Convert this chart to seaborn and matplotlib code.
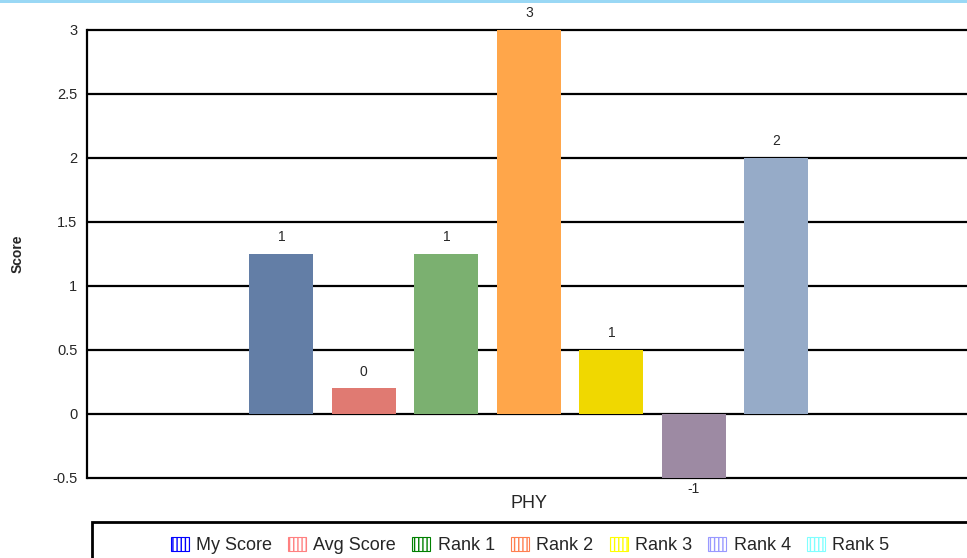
import matplotlib
matplotlib.use("Agg")
import matplotlib.pyplot as plt
from matplotlib.patches import Patch, Rectangle
import seaborn as sns
import pandas as pd

# data
subjects = ["PHY"]
series = ["My Score", "Avg Score", "Rank 1", "Rank 2", "Rank 3", "Rank 4", "Rank 5"]
scores = [1.25, 0.2, 1.25, 3.0, 0.5, -0.5, 2.0]
value_labels = ["1", "0", "1", "3", "1", "-1", "2"]
bar_colors = ["#637ea6", "#e07a72", "#7bb070", "#ffa64a", "#f0d800", "#9d8aa3", "#96abc8"]
legend_colors = ["#0000ff", "#ff8080", "#008000", "#ff7f50", "#ffff00", "#9999ff", "#80ffff"]
y_ticks = [-0.5, 0, 0.5, 1, 1.5, 2, 2.5, 3]

df = pd.DataFrame({"subject": subjects * len(series), "series": series, "score": scores})

sns.set_theme(style="white")
plt.rcParams["font.family"] = ["Liberation Sans", "DejaVu Sans"]
plt.rcParams["hatch.linewidth"] = 1.0

fig = plt.figure(figsize=(9.67, 5.58), dpi=100)
ax = fig.add_axes([0.09, 0.1434, 0.91, 0.8029])

sns.barplot(data=df, x="subject", y="score", hue="series", hue_order=series,
            palette=bar_colors, width=0.8, gap=0.22, legend=False, ax=ax,
            saturation=1, errorbar=None, linewidth=0)

# horizontal grid lines
for t in y_ticks:
    ax.axhline(t, color="black", linewidth=1.6, zorder=0, clip_on=False)

ax.set_ylim(-0.5, 3)
ax.set_xlim(-0.612, 0.607)
ax.set_yticks(y_ticks)
ax.set_yticklabels(["-0.5", "0", "0.5", "1", "1.5", "2", "2.5", "3"], fontsize=10.5)
ax.tick_params(axis="x", labelsize=13, length=0, pad=12)
ax.tick_params(axis="y", length=0, pad=7)
ax.set_xlabel("")
ax.set_ylabel("Score", fontsize=10, fontweight="bold")
ax.yaxis.set_label_coords(-0.071, 0.5)

for sp in ["top", "right", "bottom"]:
    ax.spines[sp].set_visible(False)
ax.spines["left"].set_color("black")
ax.spines["left"].set_linewidth(1.6)

# value labels
for bar, lab in zip(ax.patches, value_labels):
    h = bar.get_height()
    x = bar.get_x() + bar.get_width() / 2
    if h >= 0:
        ax.annotate(lab, (x, h), xytext=(0, 7), textcoords="offset points",
                    ha="center", va="bottom", fontsize=10)
    else:
        ax.annotate(lab, (x, h), xytext=(0, -3), textcoords="offset points",
                    ha="center", va="top", fontsize=10)

# top light blue strip
fig.patches.append(Rectangle((0, 0.995), 1, 0.01, transform=fig.transFigure,
                             facecolor="#9ad8f5", edgecolor="none"))

# legend box
fig.patches.append(Rectangle((92 / 967, -0.1), 1, 0.1 + 1 - 522 / 558,
                             transform=fig.transFigure, facecolor="white",
                             edgecolor="black", linewidth=2))

handles = [Patch(facecolor="white", edgecolor=c, hatch="||||", linewidth=0.8, label=s)
           for s, c in zip(series, legend_colors)]
fig.legend(handles=handles, loc="center", bbox_to_anchor=(0.548, 0.022), ncol=7,
           frameon=False, fontsize=13, handlelength=1.0, handleheight=0.8,
           handletextpad=0.4, columnspacing=0.9)

fig.savefig("out.png", dpi=100)
